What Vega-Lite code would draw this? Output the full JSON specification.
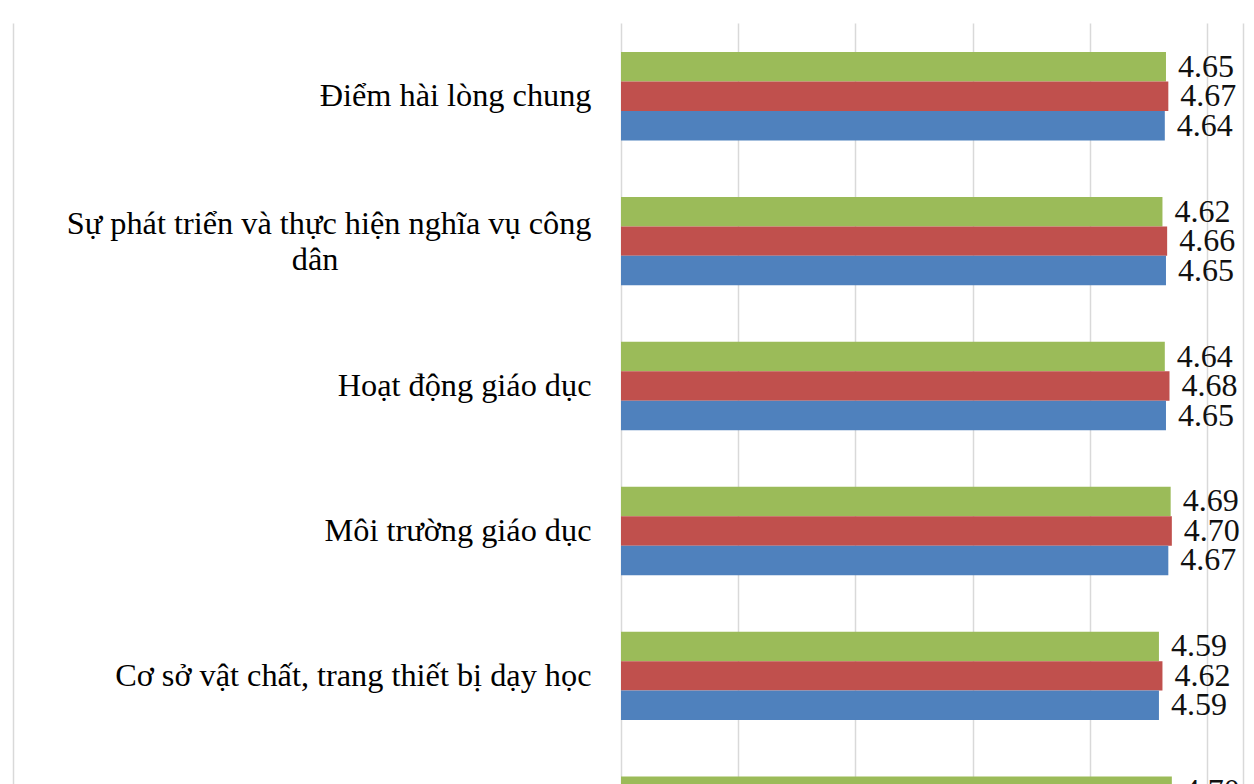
{
  "$schema": "https://vega.github.io/schema/vega-lite/v6.json",
  "width": 586,
  "height": 761,
  "autosize": {"type": "none"},
  "padding": {"left": 621, "top": 23, "right": 47, "bottom": 0},
  "background": "white",
  "config": {"view": {"stroke": null}, "font": "Liberation Serif"},
  "data": {
    "values": [
      {"muc": "Điểm hài lòng chung", "nhom": "Nhóm 3", "diem": 4.65},
      {"muc": "Điểm hài lòng chung", "nhom": "Nhóm 2", "diem": 4.67},
      {"muc": "Điểm hài lòng chung", "nhom": "Nhóm 1", "diem": 4.64},
      {"muc": "Sự phát triển và thực hiện nghĩa vụ công dân", "nhom": "Nhóm 3", "diem": 4.62},
      {"muc": "Sự phát triển và thực hiện nghĩa vụ công dân", "nhom": "Nhóm 2", "diem": 4.66},
      {"muc": "Sự phát triển và thực hiện nghĩa vụ công dân", "nhom": "Nhóm 1", "diem": 4.65},
      {"muc": "Hoạt động giáo dục", "nhom": "Nhóm 3", "diem": 4.64},
      {"muc": "Hoạt động giáo dục", "nhom": "Nhóm 2", "diem": 4.68},
      {"muc": "Hoạt động giáo dục", "nhom": "Nhóm 1", "diem": 4.65},
      {"muc": "Môi trường giáo dục", "nhom": "Nhóm 3", "diem": 4.69},
      {"muc": "Môi trường giáo dục", "nhom": "Nhóm 2", "diem": 4.70},
      {"muc": "Môi trường giáo dục", "nhom": "Nhóm 1", "diem": 4.67},
      {"muc": "Cơ sở vật chất, trang thiết bị dạy học", "nhom": "Nhóm 3", "diem": 4.59},
      {"muc": "Cơ sở vật chất, trang thiết bị dạy học", "nhom": "Nhóm 2", "diem": 4.62},
      {"muc": "Cơ sở vật chất, trang thiết bị dạy học", "nhom": "Nhóm 1", "diem": 4.59},
      {"muc": "…", "nhom": "Nhóm 3", "diem": 4.70}
    ]
  },
  "layer": [
    {
      "mark": {"type": "bar"},
      "encoding": {
        "y": {
          "field": "muc",
          "type": "nominal",
          "scale": {
            "domain": ["Điểm hài lòng chung", "Sự phát triển và thực hiện nghĩa vụ công dân", "Hoạt động giáo dục", "Môi trường giáo dục", "Cơ sở vật chất, trang thiết bị dạy học", "…"],
            "range": [0, 871],
            "paddingInner": 0.39,
            "paddingOuter": 0.2
          },
          "axis": {
            "title": null,
            "orient": "left",
            "offset": 608,
            "domain": true,
            "domainColor": "#d9d9d9",
            "domainWidth": 1.5,
            "ticks": false,
            "labelPadding": -578,
            "labelFont": "Liberation Serif",
            "labelFontSize": 32.3,
            "labelColor": "#000000",
            "labelLimit": 0,
            "labelLineHeight": 36,
            "labelOffset": {"condition": {"test": "datum.value == 'Sự phát triển và thực hiện nghĩa vụ công dân'", "value": -17}, "value": 0},
            "labelExpr": "datum.value == 'Sự phát triển và thực hiện nghĩa vụ công dân' ? ['Sự phát triển và thực hiện nghĩa vụ công', 'dân\u2800\u2800\u2800\u2800\u2800\u2800\u2800\u2800\u2800\u2800\u2800'] : datum.value"
          }
        },
        "yOffset": {
          "field": "nhom",
          "type": "nominal",
          "scale": {"domain": ["Nhóm 3", "Nhóm 2", "Nhóm 1"], "paddingInner": 0, "paddingOuter": 0}
        },
        "x": {
          "field": "diem",
          "type": "quantitative",
          "scale": {"domain": [0, 5], "nice": false},
          "axis": {
            "title": null,
            "orient": "top",
            "values": [0, 1, 2, 3, 4, 5],
            "labels": false,
            "ticks": false,
            "domain": false,
            "grid": true,
            "gridColor": "#d9d9d9",
            "gridWidth": 1.5
          }
        },
        "color": {
          "field": "nhom",
          "type": "nominal",
          "scale": {"domain": ["Nhóm 1", "Nhóm 2", "Nhóm 3"], "range": ["#4F81BD", "#C0504D", "#9BBB59"]},
          "legend": null
        }
      }
    },
    {
      "mark": {"type": "text", "align": "left", "baseline": "middle", "dx": 12, "font": "Liberation Serif", "fontSize": 32, "color": "#111111"},
      "encoding": {
        "y": {
          "field": "muc",
          "type": "nominal",
          "axis": {
            "orient": "right",
            "title": null,
            "offset": 36,
            "domain": true,
            "domainColor": "#d9d9d9",
            "domainWidth": 1.5,
            "ticks": false,
            "labels": false,
            "grid": false
          }
        },
        "yOffset": {"field": "nhom", "type": "nominal"},
        "x": {"field": "diem", "type": "quantitative"},
        "text": {"field": "diem", "type": "quantitative", "format": ".2f"}
      }
    }
  ],
  "resolve": {"axis": {"y": "independent"}}
}
